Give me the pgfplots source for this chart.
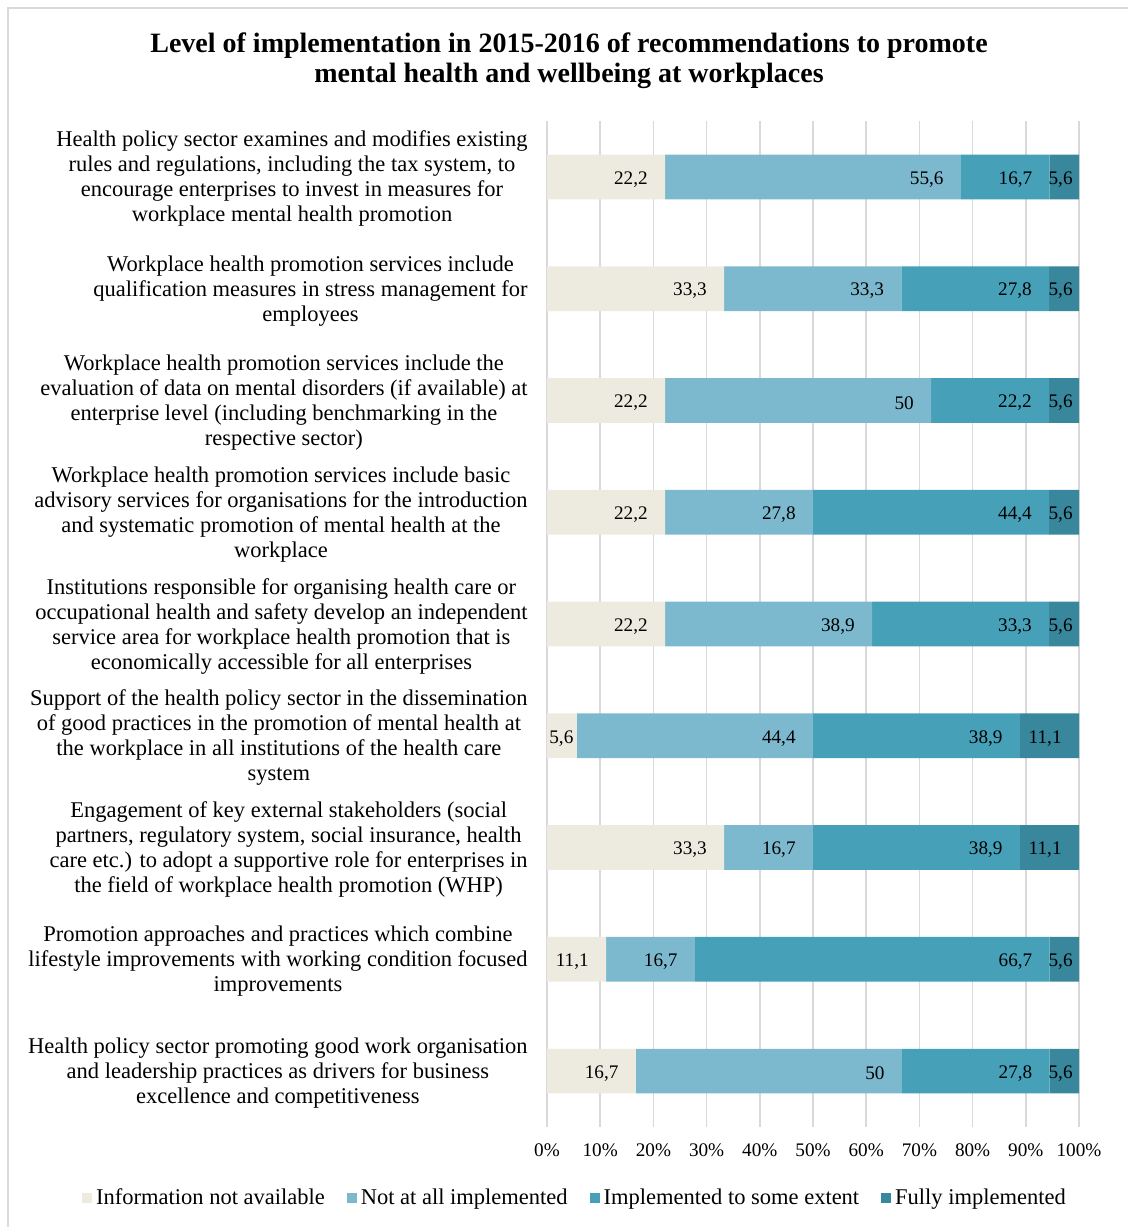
\documentclass[border=0pt]{standalone}
\usepackage{pgfplots}
\pgfplotsset{compat=1.18}
\usepackage{fontspec}
\setmainfont{Liberation Serif}
\definecolor{cNA}{HTML}{EDEBE0}
\definecolor{cNot}{HTML}{7DB9CE}
\definecolor{cSome}{HTML}{45A0B8}
\definecolor{cFull}{HTML}{38879C}
\definecolor{cGrid}{HTML}{D9D9D9}
\newcommand\lab{\fontsize{11.25}{12.5}\selectfont}
\newcommand\num{\fontsize{9.6}{11}\selectfont}
\pgfplotsset{common/.style={
 at={(273.5pt,50pt)}, anchor=south west,
 scale only axis, width=266pt, height=503pt,
 y dir=reverse, ymin=-0.5, ymax=8.5, xmin=0, xmax=100}}
\begin{document}
\begin{tikzpicture}
\useasboundingbox (0,0) rectangle (564pt,613.5pt);
\draw[cGrid, line width=0.6pt] (4pt,0) -- (4pt,609.5pt) -- (564pt,609.5pt);
\node[align=center, font=\bfseries\fontsize{14}{15}\selectfont] at (284.5pt,583pt)
 {Level of implementation in 2015-2016 of recommendations to promote\\mental health and wellbeing at workplaces};
\begin{axis}[
 common,
 xbar stacked, bar width=0.4,
 xtick={0,10,...,100},
 /pgf/number format/assume math mode=true,
 xticklabel={\pgfmathprintnumber{\tick}\%},
 xticklabel style={font=\num, anchor=center, inner sep=0pt, yshift=-11.5pt},
 ytick={0,...,8},
 yticklabels={
  {Health policy sector examines and modifies existing\\rules and regulations, including the tax system, to\\encourage enterprises to invest in measures for\\workplace mental health promotion},
  {Workplace health promotion services include\\qualification measures in stress management for\\employees},
  {Workplace health promotion services include the\\evaluation of data on mental disorders (if available) at\\enterprise level (including benchmarking in the\\respective sector)},
  {Workplace health promotion services include basic\\advisory services for organisations for the introduction\\and systematic promotion of mental health at the\\workplace},
  {Institutions responsible for organising health care or\\occupational health and safety develop an independent\\service area for workplace health promotion that is\\economically accessible for all enterprises},
  {Support of the health policy sector in the dissemination\\of good practices in the promotion of mental health at\\the workplace in all institutions of the health care\\system},
  {Engagement of key external stakeholders (social\\partners, regulatory system, social insurance, health\\care etc.) to adopt a supportive role for enterprises in\\the field of workplace health promotion (WHP)},
  {Promotion approaches and practices which combine\\lifestyle improvements with working condition focused\\improvements},
  {Health policy sector promoting good work organisation\\and leadership practices as drivers for business\\excellence and competitiveness}},
 yticklabel style={align=center, font=\lab, anchor=east, inner sep=0pt, xshift=-9.5pt, yshift=-1pt},
 axis line style={draw=none},
 tick style={draw=none},
 xmajorgrids, major grid style={color=cGrid, line width=0.8pt},
 legend columns=4,
 legend style={draw=none, fill=none, font=\lab, at={(axis description cs:0.0545,-0.0705)}, anchor=center,
   /tikz/every even column/.append style={column sep=9pt}},
 legend image code/.code={\fill[#1] (-1.5pt,-2.5pt) rectangle (3.5pt,2.5pt);},
]
\addplot[fill=cNA, draw=none] coordinates {
 (22.2,0) (33.3,1) (22.2,2) (22.2,3) (22.2,4) (5.6,5) (33.3,6) (11.1,7) (16.7,8)};
\addplot[fill=cNot, draw=none] coordinates {
 (55.6,0) (33.3,1) (50,2) (27.8,3) (38.9,4) (44.4,5) (16.7,6) (16.7,7) (50,8)};
\addplot[fill=cSome, draw=none] coordinates {
 (16.7,0) (27.8,1) (22.2,2) (44.4,3) (33.3,4) (38.9,5) (38.9,6) (66.7,7) (27.8,8)};
\addplot[fill=cFull, draw=none] coordinates {
 (5.6,0) (5.6,1) (5.6,2) (5.6,3) (5.6,4) (11.1,5) (11.1,6) (5.6,7) (5.6,8)};
\legend{Information not available, Not at all implemented, Implemented to some extent, Fully implemented}
\end{axis}
% data labels: placed at the cumulative end of each segment
\begin{axis}[
 common, hide axis, clip=false,
 point meta=explicit symbolic,
 nodes near coords={\pgfplotspointmeta},
 nodes near coords style={anchor=east, xshift=-8.5pt, yshift=-1.2pt, font=\num, inner sep=0pt, text=black},
]
\addplot[draw=none, mark=none] coordinates {
 (22.2,0) [22,2] (77.8,0) [55,6] (94.5,0) [16,7] (100,0) [5,6\kern-5.5pt]
 (33.3,1) [33,3] (66.6,1) [33,3] (94.4,1) [27,8] (100,1) [5,6\kern-5.5pt]
 (22.2,2) [22,2] (72.2,2) [50] (94.4,2) [22,2] (100,2) [5,6\kern-5.5pt]
 (22.2,3) [22,2] (50,3) [27,8] (94.4,3) [44,4] (100,3) [5,6\kern-5.5pt]
 (22.2,4) [22,2] (61.1,4) [38,9] (94.4,4) [33,3] (100,4) [5,6\kern-5.5pt]
 (5.6,5) [5,6\kern-7pt] (50,5) [44,4] (88.9,5) [38,9] (100,5) [11,1]
 (33.3,6) [33,3] (50,6) [16,7] (88.9,6) [38,9] (100,6) [11,1]
 (11.1,7) [11,1] (27.8,7) [16,7] (94.5,7) [66,7] (100,7) [5,6\kern-5.5pt]
 (16.7,8) [16,7] (66.7,8) [50] (94.5,8) [27,8] (100,8) [5,6\kern-5.5pt]};
\end{axis}
\end{tikzpicture}
\end{document}
